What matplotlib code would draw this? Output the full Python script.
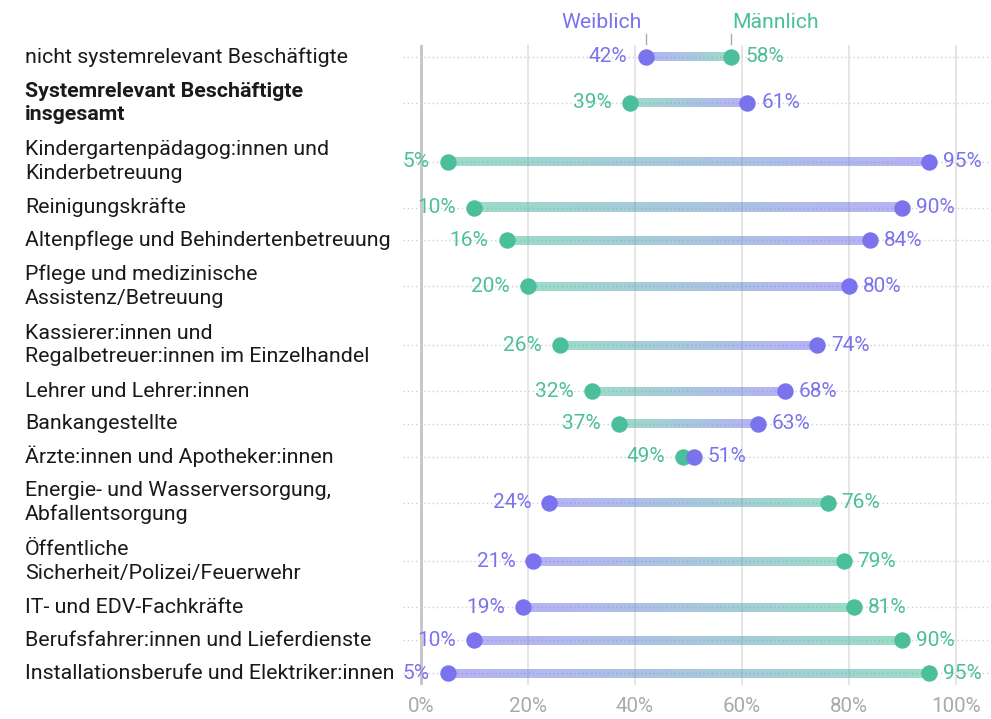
import numpy as np
import matplotlib.pyplot as plt
from matplotlib.transforms import blended_transform_factory
from matplotlib.colors import to_rgb

plt.rcParams['font.family'] = ['Roboto', 'DejaVu Sans']

# Anteil Frauen / Männer je Berufsgruppe
kategorien = [
    "nicht systemrelevant Beschäftigte",
    "Systemrelevant Beschäftigte\ninsgesamt",
    "Kindergartenpädagog:innen und\nKinderbetreuung",
    "Reinigungskräfte",
    "Altenpflege und Behindertenbetreuung",
    "Pflege und medizinische\nAssistenz/Betreuung",
    "Kassierer:innen und\nRegalbetreuer:innen im Einzelhandel",
    "Lehrer und Lehrer:innen",
    "Bankangestellte",
    "Ärzte:innen und Apotheker:innen",
    "Energie- und Wasserversorgung,\nAbfallentsorgung",
    "Öffentliche\nSicherheit/Polizei/Feuerwehr",
    "IT- und EDV-Fachkräfte",
    "Berufsfahrer:innen und Lieferdienste",
    "Installationsberufe und Elektriker:innen",
]
weiblich = [42, 61, 95, 90, 84, 80, 74, 68, 63, 51, 24, 21, 19, 10, 5]
maennlich = [58, 39, 5, 10, 16, 20, 26, 32, 37, 49, 76, 79, 81, 90, 95]
xticks = [0, 20, 40, 60, 80, 100]

lila = '#7b73ee'
gruen = '#4bbf9c'

W, H = 991, 719
fig = plt.figure(figsize=(W / 100, H / 100), dpi=100)
ax = fig.add_axes([403 / W, (H - 685) / H, (990 - 403) / W, (685 - 45) / H])

# Zeilenhöhe abhängig von Anzahl Textzeilen (Pixel)
hoehen = [32.86 + 26 * (k.count("\n")) for k in kategorien]
ypos = [57.0]
for i in range(1, len(kategorien)):
    ypos.append(ypos[-1] + (hoehen[i - 1] + hoehen[i]) / 2)

ax.set_xlim(-3.36, 106.36)
ax.set_ylim(685, 45)

for x in xticks:
    ax.axvline(x, color='#c4c4c4' if x == 0 else '#e3e3e3',
               lw=2 if x == 0 else 1.3, zorder=0)
for y in ypos:
    ax.axhline(y, color='#cfcfcf', lw=1, ls=(0, (1, 2)), zorder=0.5)

c_l, c_g = np.array(to_rgb(lila)), np.array(to_rgb(gruen))
for y, w, m in zip(ypos, weiblich, maennlich):
    x0, x1 = min(w, m), max(w, m)
    c0, c1 = (c_l, c_g) if w < m else (c_g, c_l)
    t = np.linspace(0, 1, 256)[None, :, None]
    grad = np.concatenate([c0 * (1 - t) + c1 * t, np.full((1, 256, 1), 0.55)], axis=2)
    ax.imshow(grad, extent=(x0, x1, y + 4.5, y - 4.5), aspect='auto',
              interpolation='bilinear', zorder=1)
    ax.scatter([m], [y], s=140, color=gruen, zorder=3, linewidths=0)
    ax.scatter([w], [y], s=140, color=lila, zorder=4, linewidths=0)
    lc = lila if w < m else gruen
    rc = gruen if w < m else lila
    ax.annotate(f"{x0}%", (x0, y), xytext=(-13, 0), textcoords='offset points',
                ha='right', va='center', color=lc, fontsize=15)
    ax.annotate(f"{x1}%", (x1, y), xytext=(10, 0), textcoords='offset points',
                ha='left', va='center', color=rc, fontsize=15)

# Kopfzeile
ax.annotate("Weiblich", (weiblich[0], 22), xytext=(-3, 0), textcoords='offset points',
            color=lila, fontsize=15.3, ha='right', va='center', annotation_clip=False)
ax.annotate("Männlich", (maennlich[0], 22), xytext=(1, 0), textcoords='offset points',
            color=gruen, fontsize=15.3, ha='left', va='center', annotation_clip=False)
for x in (weiblich[0], maennlich[0]):
    ax.plot([x, x], [34, 44], color='#aaaaaa', lw=1, clip_on=False)

tr = blended_transform_factory(fig.transFigure, ax.transData)
for y, k in zip(ypos, kategorien):
    ax.text(25 / W, y, k, transform=tr, ha='left', va='center', fontsize=15.4,
            color='#1a1a1a', linespacing=1.31,
            fontweight='bold' if k.startswith("Systemrelevant") else 'normal')

ax.set_xticks(xticks)
ax.set_xticklabels([f"{x}%" for x in xticks], color='#aaaaaa', fontsize=14.8)
ax.tick_params(axis='x', length=0, pad=9)
ax.set_yticks([])
for s in ax.spines.values():
    s.set_visible(False)

fig.savefig('out.png', dpi=100)
